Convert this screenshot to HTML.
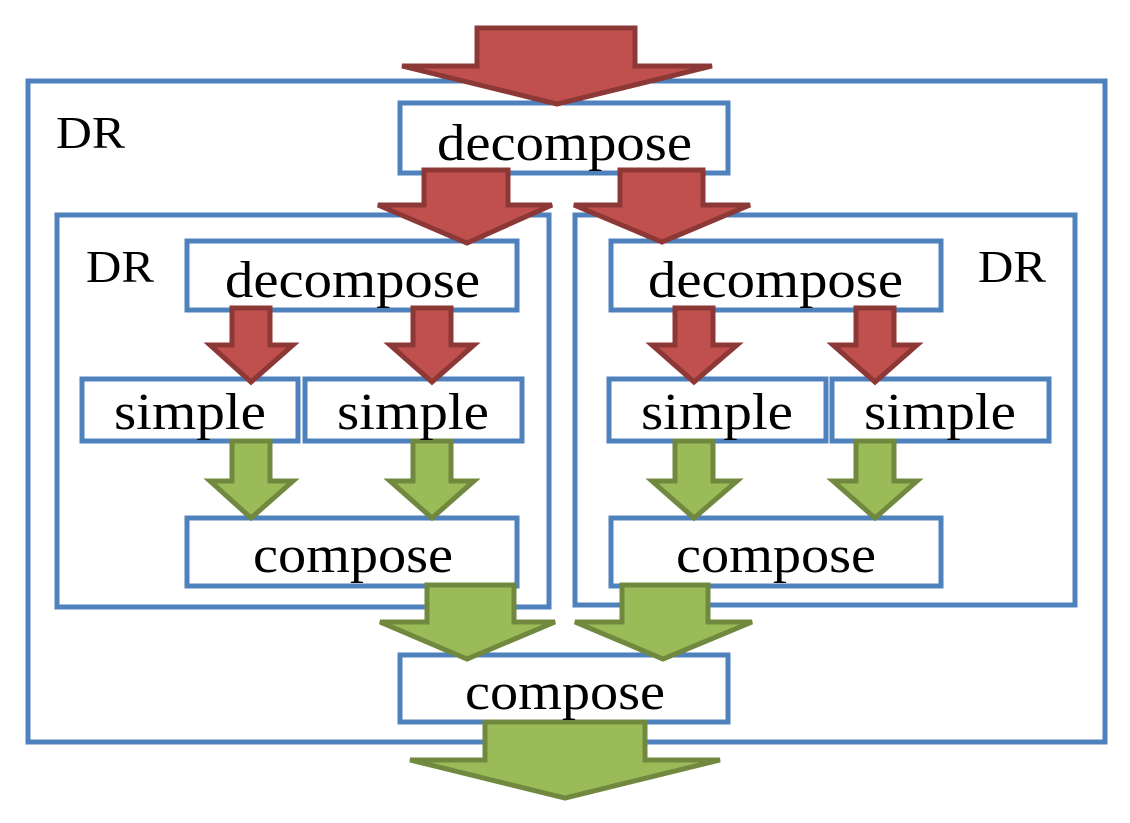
<!DOCTYPE html>
<html><head><meta charset="utf-8"><style>html,body{margin:0;padding:0;background:#fff}</style></head>
<body>
<svg width="1130" height="818" xmlns="http://www.w3.org/2000/svg" font-family="Liberation Serif, serif">
<g fill="#fff" stroke="#4f81bd" stroke-width="5">
<rect x="28" y="81" width="1077" height="661"/>
<rect x="57" y="215" width="492" height="392"/>
<rect x="575" y="215" width="500" height="390"/>
<rect x="400" y="103" width="328" height="70"/>
<rect x="187" y="241" width="330" height="69"/>
<rect x="611" y="241" width="330" height="69"/>
<rect x="82" y="379" width="216" height="62"/>
<rect x="305" y="379" width="217" height="62"/>
<rect x="609" y="379" width="217" height="62"/>
<rect x="832" y="379" width="217" height="62"/>
<rect x="187" y="518" width="330" height="68"/>
<rect x="611" y="518" width="330" height="68"/>
<rect x="400" y="655" width="328" height="67"/>
</g>
<g fill="#c0504d" stroke="#8c3836" stroke-width="5" stroke-linejoin="miter">
<polygon points="477,28 635,28 635,66 712,66 557,104 402,66 477,66"/>
<polygon points="424,170 508,170 508,205 552,205 467,243 378,205 424,205"/>
<polygon points="620,170 703,170 703,205 750,205 662,242 574,205 620,205"/>
<polygon points="232,308 270,308 270,345 293,345 251,382 210,345 232,345"/>
<polygon points="413,308 451,308 451,345 474,345 432,382 390,345 413,345"/>
<polygon points="675,308 713,308 713,345 737,345 694,382 652,345 675,345"/>
<polygon points="856,308 894,308 894,345 917,345 875,382 833,345 856,345"/>
</g>
<g fill="#9bbb59" stroke="#71893f" stroke-width="5">
<polygon points="232,441 270,441 270,481 293,481 251,518 210,481 232,481"/>
<polygon points="413,441 451,441 451,481 474,481 432,518 390,481 413,481"/>
<polygon points="675,441 713,441 713,481 737,481 694,518 652,481 675,481"/>
<polygon points="856,441 894,441 894,481 917,481 875,518 833,481 856,481"/>
<polygon points="427,585 514,585 514,622 555,622 467,659 380,622 427,622"/>
<polygon points="622,585 708,585 708,622 752,622 663,659 575,622 622,622"/>
<polygon points="485,722 645,722 645,760 720,760 565,798 410,760 485,760"/>
</g>
<g font-size="52" fill="#000" lengthAdjust="spacingAndGlyphs">
<text x="437" y="160" textLength="255" lengthAdjust="spacingAndGlyphs">decompose</text>
<text x="225" y="297" textLength="255" lengthAdjust="spacingAndGlyphs">decompose</text>
<text x="648" y="297" textLength="255" lengthAdjust="spacingAndGlyphs">decompose</text>
<text x="114" y="429" textLength="152" lengthAdjust="spacingAndGlyphs">simple</text>
<text x="337" y="429" textLength="152" lengthAdjust="spacingAndGlyphs">simple</text>
<text x="641" y="429" textLength="152" lengthAdjust="spacingAndGlyphs">simple</text>
<text x="864" y="429" textLength="152" lengthAdjust="spacingAndGlyphs">simple</text>
<text x="253" y="572" textLength="200" lengthAdjust="spacingAndGlyphs">compose</text>
<text x="676" y="572" textLength="200" lengthAdjust="spacingAndGlyphs">compose</text>
<text x="465" y="709" textLength="200" lengthAdjust="spacingAndGlyphs">compose</text>
</g>
<g font-size="46" fill="#000">
<text x="56" y="148" textLength="69" lengthAdjust="spacingAndGlyphs">DR</text>
<text x="86" y="282" textLength="68" lengthAdjust="spacingAndGlyphs">DR</text>
<text x="978" y="282" textLength="68" lengthAdjust="spacingAndGlyphs">DR</text>
</g>
</svg>
</body></html>
